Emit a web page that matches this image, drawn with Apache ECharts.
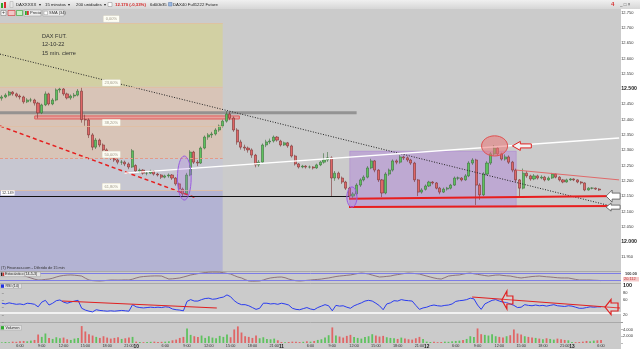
<!DOCTYPE html>
<html><head><meta charset="utf-8">
<script src="https://cdn.jsdelivr.net/npm/echarts@6/dist/echarts.min.js"></script>
<style>html,body{margin:0;padding:0;background:#cbcbcb}#c{width:640px;height:349px}</style>
</head><body><div id="c"></div><script>
// ---------- categories (30-min slots per session) ----------
const days = ['7','10','11','12','13'];
const sessionFirst = ['3:30','2:00','2:00','2:00','2:00'];
const sessionLast = ['21:30','21:30','21:30','21:30','6:00'];
const emptySlots = 5;
const timeTicks = ['6:00','9:00','12:00','15:00','18:00','21:00'];

// ---------- price candles [open, close, low, high] ----------
const ohlc = [
[12470,12474,12462,12480],[12474,12480,12470,12486],[12480,12490,12476,12494],[12490,12484,12478,12493],[12484,12477,12472,12488],
[12477,12474,12466,12482],[12474,12458,12452,12478],[12458,12464,12454,12470],[12464,12464,12457,12471],[12464,12454,12446,12468],
[12454,12422,12404,12458],[12422,12448,12418,12452],[12448,12484,12444,12492],[12484,12451,12446,12488],[12451,12464,12447,12470],
[12464,12497,12460,12502],[12497,12500,12488,12506],[12500,12484,12478,12503],[12484,12471,12466,12488],[12471,12477,12465,12482],
[12477,12480,12470,12487],[12480,12493,12476,12500],[12493,12400,12390,12506],[12400,12399,12380,12416],[12399,12350,12340,12404],
[12350,12310,12300,12356],[12310,12333,12304,12340],[12333,12317,12310,12338],[12317,12301,12296,12322],[12301,12284,12278,12306],
[12284,12275,12268,12290],[12275,12268,12262,12280],[12268,12261,12254,12272],[12261,12261,12252,12268],[12261,12255,12248,12266],
[12255,12245,12238,12260],[12245,12298,12242,12304],[12250,12232,12226,12254],[12232,12235,12226,12240],[12235,12225,12220,12238],
[12225,12225,12218,12230],[12225,12232,12222,12236],[12232,12222,12217,12235],[12222,12219,12214,12226],[12219,12212,12206,12222],
[12212,12216,12208,12220],[12216,12219,12210,12224],[12219,12209,12203,12222],[12209,12190,12184,12212],[12190,12173,12166,12194],
[12173,12157,12147,12178],[12157,12219,12154,12226],[12219,12294,12215,12300],[12294,12261,12255,12298],[12261,12258,12248,12268],
[12258,12307,12255,12312],[12307,12343,12303,12348],[12343,12350,12334,12356],[12350,12353,12340,12360],[12353,12366,12348,12372],
[12366,12379,12360,12384],[12379,12395,12374,12400],[12395,12418,12390,12428],[12418,12405,12398,12426],[12405,12366,12360,12410],
[12366,12327,12318,12372],[12327,12310,12302,12334],[12310,12307,12298,12318],[12307,12301,12292,12312],[12301,12284,12275,12306],
[12284,12252,12244,12288],[12252,12261,12246,12268],[12261,12317,12258,12322],[12317,12327,12310,12334],[12327,12330,12320,12338],
[12330,12343,12325,12348],[12343,12333,12328,12346],[12330,12317,12312,12334],[12317,12324,12314,12328],[12324,12314,12308,12327],
[12314,12281,12276,12318],[12281,12255,12250,12285],[12255,12245,12240,12258],[12245,12248,12241,12252],[12248,12245,12240,12251],
[12245,12245,12240,12250],[12245,12242,12237,12248],[12242,12252,12239,12256],[12252,12261,12248,12265],[12261,12268,12256,12290],
[12268,12275,12262,12294],[12275,12209,12150,12280],[12209,12225,12200,12232],[12225,12209,12204,12230],[12209,12196,12190,12214],
[12196,12176,12170,12200],[12176,12150,12141,12180],[12150,12157,12144,12163],[12157,12186,12152,12192],[12186,12203,12180,12208],
[12203,12212,12198,12218],[12212,12242,12208,12248],[12242,12265,12238,12272],[12265,12235,12228,12268],[12235,12203,12196,12238],
[12203,12160,12147,12206],[12160,12222,12156,12228],[12222,12235,12216,12240],[12235,12265,12230,12270],[12265,12261,12254,12270],
[12261,12278,12256,12284],[12278,12275,12268,12282],[12275,12268,12262,12280],[12268,12258,12252,12272],[12258,12203,12196,12262],
[12203,12163,12150,12206],[12163,12170,12158,12176],[12172,12183,12168,12188],[12183,12196,12180,12200],[12196,12193,12188,12199],
[12193,12176,12172,12196],[12176,12163,12156,12180],[12163,12173,12160,12178],[12173,12176,12168,12180],[12176,12186,12172,12190],
[12186,12209,12183,12214],[12209,12209,12202,12214],[12209,12203,12198,12212],[12203,12216,12200,12222],[12216,12258,12212,12264],
[12258,12268,12252,12274],[12268,12186,12121,12272],[12186,12154,12138,12192],[12154,12222,12150,12228],[12222,12258,12218,12264],
[12258,12288,12252,12294],[12288,12307,12282,12317],[12307,12288,12282,12312],[12288,12271,12266,12292],[12271,12278,12266,12286],
[12278,12261,12255,12283],[12261,12235,12228,12265],[12235,12203,12196,12240],[12203,12176,12144,12206],[12176,12225,12172,12240],
[12225,12216,12210,12232],[12216,12206,12200,12220],[12206,12216,12202,12222],[12216,12209,12204,12220],[12209,12212,12205,12218],
[12212,12203,12198,12216],[12203,12209,12200,12214],[12209,12222,12206,12226],[12222,12212,12208,12224],[12212,12203,12198,12215],
[12203,12196,12192,12206],[12196,12203,12194,12207],[12203,12206,12200,12209],[12206,12203,12199,12208],[12203,12196,12192,12205],
[12196,12193,12188,12199],[12193,12170,12166,12195],[12170,12176,12168,12179],[12176,12176,12172,12179],[12176,12173,12170,12178],
[12173,12170,12167,12176]
];

const volume = [200,300,250,400,350,500,600,500,700,900,
2500,1800,2800,1500,1200,1700,1400,1600,1100,900,
1300,1500,5000,3400,2600,2200,1800,1500,2000,1600,
1300,1500,1700,1200,1400,1600,1800,400,300,250,
300,350,400,300,350,400,500,800,1000,1500,
1800,4300,2400,2000,1800,2200,1500,2000,1600,1400,
2100,1800,2500,1700,4000,4900,3100,2000,1800,1500,
2200,1400,1700,1200,1100,1300,800,300,250,300,
400,350,300,350,500,400,600,900,1100,1600,
2300,4600,2200,1900,1600,2100,2400,1800,1500,1300,
1800,2000,2600,2200,1900,2100,1700,1500,1400,1200,
1600,1300,1100,1000,1400,1800,1200,400,300,350,
250,300,400,350,500,600,700,900,1200,2000,
1800,4300,2600,2400,2200,2600,2000,1800,1600,2000,
2300,4000,2800,2500,2000,1800,1600,1500,1300,1100,
1400,1200,1000,1300,1100,900,800,300,250,300,
400,600,500,700,800,900];

const stoch = [58,62,67,68,68,67,60,52,42,32,
25,26,30,33,40,50,58,63,66,67,
65,62,58,40,25,20,18,17,19,22,
25,25,24,25,26,25,32,42,50,54,
56,58,59,59,58,45,33,35,38,42,
50,58,67,72,78,83,87,90,91,91,
90,86,80,75,62,50,42,28,17,15,
16,17,25,35,42,46,49,50,44,33,
25,19,17,19,22,25,28,30,33,38,
42,48,54,58,61,64,67,73,79,83,
80,75,66,58,50,52,55,58,65,70,
75,80,83,81,78,75,66,58,50,42,
36,33,45,58,62,65,67,74,80,83,
77,72,67,62,58,62,66,67,63,60,
58,52,46,42,46,50,54,56,58,55,
52,50,47,44,42,42,42,36,30,25,
25,25,25,23,22,20];

const rsi = [52,50,53,51,49,50,48,52,51,49,
42,55,60,47,52,59,61,55,52,55,
58,60,38,33,30,28,34,32,31,30,
31,30,31,32,31,30,48,42,40,39,
40,41,40,41,40,42,41,36,34,33,
31,57,62,58,58,62,65,66,63,64,
67,69,75,70,59,52,48,48,45,40,
35,38,52,52,50,51,49,52,50,47,
38,35,34,37,40,36,34,40,44,48,
45,31,46,44,45,41,38,45,49,53,
58,60,58,52,45,34,50,53,59,58,
62,60,59,58,46,35,39,41,45,47,
45,44,46,47,50,57,59,60,62,66,
64,47,35,50,55,60,62,58,55,54,
50,46,40,41,48,46,45,47,45,46,
44,46,48,45,44,43,45,44,41,38,
38,40,42,41,42,42];

// ---------- annotations (slot index / price units) ----------
const fibLevels = [
  {name:'0,00%', price:12716},
  {name:'23,60%', price:12507},
  {name:'38,20%', price:12377},
  {name:'50,00%', price:12273},
  {name:'61,80%', price:12168}
];
const fibFloor = 11905;
const fibStartX = -0.5, fibEndX = 61;
const grayLevel = [[-0.5,12422],[98,12422]];
const pinkBand = [[9.1,12412],[65.6,12402]];
const purpleBox = [[96.1,12297],[142.1,12114]];
const trendDotted = [[-0.5,12614],[170.5,12111]];
const trendRedDashed = [[-0.5,12379],[53.7,12144]];
const trendWhite = [[33.9,12225],[170.5,12340]];
const supportRed1 = [[95.9,12141],[170.5,12150]];
const supportRed2 = [[95.9,12114],[170.5,12118]];
const supportBlack = [[-0.5,12149],[95.9,12149]];
const resistThin = [[142.1,12235],[170.5,12203]];
const ellipses = [[50.4,12209,1.9,72],[96.7,12147,1.4,33],[136.1,12314,3.6,33]];
const priceArrows = [[141.0,12314,0],[166.9,12150,1],[166.9,12114,2]];
const rsiRed1 = [[16.6,58.2],[59.2,38.8]];
const rsiRed2 = [[129.5,69.2],[170.2,38.8]];
const rsiWhite = [[-0.5,24.9],[170.5,24.9]];
const rsiArrows = [[137.7,60.9,3],[166.1,41.5,4]];

// ---------- build ----------
const cats = [];
days.forEach((d,k)=>{
  const a = sessionFirst[k].split(':').map(Number), b = sessionLast[k].split(':').map(Number);
  for (let t=a[0]*60+a[1]; t<=b[0]*60+b[1]; t+=30) cats.push(d+' '+Math.floor(t/60)+':'+String(t%60).padStart(2,'0'));
});
for (let k=0;k<emptySlots;k++) cats.push('e'+k);

const FF = 'Liberation Sans, Arial, sans-serif';
const GREEN = '#5ec25e', RED = '#e06666';
const fmtPrice = v => (v/1000).toFixed(3);
const ellipseStyles = [
  {fill:'rgba(170,110,230,0.22)', stroke:'#9a5ce0', lineWidth:1},
  {fill:'rgba(170,110,230,0.25)', stroke:'#9a5ce0', lineWidth:1},
  {fill:'rgba(235,120,120,0.55)', stroke:'#e05050', lineWidth:1}
];
const arrowShapes = [
  {headW:8, headH:9, shaftW:11, shaftH:4, fill:'#f2f2f2', stroke:'#e02020', lw:1},
  {headW:6, headH:12, shaftW:8, shaftH:6, fill:'#ffffff', stroke:'#555', lw:0.8},
  {headW:5, headH:8, shaftW:9, shaftH:4, fill:'#ffffff', stroke:'#555', lw:0.8},
  {headW:5, headH:18, shaftW:6, shaftH:8, fill:'rgba(255,255,255,0.15)', stroke:'#e02020', lw:1.2},
  {headW:6, headH:15, shaftW:7, shaftH:8, fill:'rgba(255,255,255,0.15)', stroke:'#e02020', lw:1.2}
];
function arrowItem(params, api){
  const c = api.coord([api.value(0), api.value(1)]);
  const a = arrowShapes[api.value(2)];
  const hh=a.headH/2, sh=a.shaftH/2, hw=a.headW, sw=a.shaftW;
  const pts = [[0,0],[hw,-hh],[hw,-sh],[hw+sw,-sh],[hw+sw,sh],[hw,sh],[hw,hh]].map(p=>[c[0]+p[0],c[1]+p[1]]);
  return {type:'polygon', shape:{points:pts}, style:{fill:a.fill, stroke:a.stroke, lineWidth:a.lw}};
}
const lineSeries = (data, style, z) => ({type:'line', xAxisIndex:1, yAxisIndex:0, data, symbol:'none', silent:true, z:z||4, lineStyle:style, animation:false});

const fibFill = ['#d2d0a3','#d8c4b7','#c7c7d1','#b3b3d3'];
const fibAreas = [
  [{coord:[fibStartX, fibLevels[0].price], itemStyle:{color:fibFill[0]}},{coord:[fibEndX, fibLevels[1].price]}],
  [{coord:[fibStartX, fibLevels[1].price], itemStyle:{color:fibFill[1]}},{coord:[fibEndX, fibLevels[3].price]}],
  [{coord:[fibStartX, fibLevels[3].price], itemStyle:{color:fibFill[2]}},{coord:[fibEndX, fibLevels[4].price]}],
  [{coord:[fibStartX, fibLevels[4].price], itemStyle:{color:fibFill[3]}},{coord:[fibEndX, fibFloor]}],
  [{coord:pinkBand[0], itemStyle:{color:'rgba(240,140,140,0.6)', borderColor:'#e05a5a', borderWidth:1}},{coord:pinkBand[1]}],
  [{coord:purpleBox[0], itemStyle:{color:'rgba(168,112,220,0.38)', borderColor:'rgba(150,90,210,0.5)', borderWidth:0.5}},{coord:purpleBox[1]}]
];
const fibLines = fibLevels.map((f,k)=>[
  {coord:[fibStartX,f.price], lineStyle:{color: k===3?'#e59a86':'rgba(225,190,160,0.8)', width:1, type: k===3?[3,2]:'solid'},
   label:{show:true, position:'middle', distance:1, formatter:f.name, fontSize:4, fontFamily:FF, color:'#a09a8a',
          backgroundColor:'rgba(255,255,245,0.95)', padding:[1,2], borderColor:'#e0dccc', borderWidth:0.5}},
  {coord:[fibEndX,f.price]}
]);

const volData = volume.map((v,i)=>({value:v, itemStyle:{color: ohlc[i][1]>=ohlc[i][0]?GREEN:RED}}));

const hiddenCat = (grid) => ({type:'category', gridIndex:grid, data:cats, boundaryGap:true, show:false});
const hiddenVal = (grid) => ({type:'value', gridIndex:grid, min:-0.5, max:170.5, show:false});
const tick = {show:true, length:2, lineStyle:{color:'#777', width:0.5}};

const option = {
  animation:false,
  backgroundColor:'#cbcbcb',
  grid:[
    {left:0, right:19, top:12.5, height:260.1},
    {left:0, right:19, top:271, height:12},
    {left:0, right:19, top:283, height:39},
    {left:0, right:19, top:322, height:22}
  ],
  xAxis:[
    hiddenCat(0), hiddenVal(0), hiddenCat(1), hiddenCat(2), hiddenVal(2),
    {type:'category', gridIndex:3, data:cats, boundaryGap:true, axisLine:{show:false}, axisTick:{show:false}, splitLine:{show:false},
     axisLabel:{fontSize:3.8, fontFamily:FF, color:'#333', margin:1,
       interval:(i,v)=>{const p=v.split(' '); return p.length===2 && (timeTicks.includes(p[1]) || p[1]==='2:00');},
       formatter:(v)=>{const p=v.split(' '); return p[1]==='2:00' ? '{d|'+p[0]+'}' : p[1];},
       rich:{d:{fontSize:4.8, fontWeight:'bold', fontFamily:FF, color:'#222'}}}}
  ],
  yAxis:[
    {type:'value', gridIndex:0, position:'right', min:11900, max:12750, interval:50, splitLine:{show:false}, axisLine:{show:false}, axisTick:tick,
     axisLabel:{fontSize:4, fontFamily:FF, color:'#333', margin:2,
       formatter:v=> (v<=11900? '' : (v%500===0 ? '{b|'+fmtPrice(v)+'}' : fmtPrice(v))),
       rich:{b:{fontSize:5.2, fontWeight:'bold', fontFamily:FF, color:'#222'}}}},
    {type:'value', gridIndex:1, min:0, max:100, show:false},
    {type:'value', gridIndex:2, position:'right', min:0, max:108, interval:20, splitLine:{show:false}, axisLine:{show:false}, axisTick:tick,
     axisLabel:{fontSize:4, fontFamily:FF, color:'#333', margin:2, showMaxLabel:false,
       formatter:v=> v===100 ? '{b|100}' : ([80,60,20].includes(v) ? String(v) : ''),
       rich:{b:{fontSize:5.4, fontWeight:'bold', fontFamily:FF, color:'#222'}}}},
    {type:'value', gridIndex:3, position:'right', min:0, max:6200, interval:2000, splitLine:{show:false}, axisLine:{show:false}, axisTick:tick,
     axisLabel:{fontSize:4, fontFamily:FF, color:'#333', margin:2, formatter:v=> v===4000?'4.000':(v===2000?'2.000':'')}}
  ],
  series:[
    {type:'line', xAxisIndex:1, yAxisIndex:0, data:grayLevel, symbol:'none', silent:true, z:1,
     lineStyle:{color:'#8a8a8a', width:3, opacity:0.85},
     markArea:{silent:true, data:fibAreas},
     markLine:{silent:true, symbol:'none', data:fibLines}},
    {type:'candlestick', xAxisIndex:0, yAxisIndex:0, data:ohlc, z:3, barWidth:2.6, silent:true,
     itemStyle:{color:GREEN, color0:RED, borderColor:'#3b6e3b', borderColor0:'#7a3434', borderWidth:0.6},
     markLine:{silent:true, symbol:'none', data:[{yAxis:ohlc[ohlc.length-1][1]}], lineStyle:{opacity:0},
       label:{show:true, position:'end', distance:1, formatter:p=>fmtPrice(p.value), fontSize:4.2, fontFamily:FF, color:'#333',
              backgroundColor:'#f2df3a', padding:[1,1]}}},
    lineSeries(trendDotted, {color:'#222', width:1, type:[1,1.6]}),
    lineSeries(trendRedDashed, {color:'#e51f1f', width:1.5, type:[4,3]}),
    lineSeries(trendWhite, {color:'#ffffff', width:1.4}),
    lineSeries(supportRed1, {color:'#e81e1e', width:2}),
    lineSeries(supportRed2, {color:'#e81e1e', width:2}),
    Object.assign(lineSeries(resistThin, {color:'#e06a6a', width:1}), {
      markLine:{silent:true, symbol:'none', data:[[{coord:supportBlack[0], label:{show:true, position:'insideStartTop', distance:1,
        formatter:'12.149', fontSize:3.8, fontFamily:FF, color:'#333', backgroundColor:'#ffffff', padding:[0.5,1]}}, {coord:supportBlack[1]}]],
        lineStyle:{color:'#111', width:1, type:'solid'}}}),
    {type:'custom', xAxisIndex:1, yAxisIndex:0, data:ellipses, z:5, silent:true, clip:false, encode:{x:0,y:1},
     renderItem:(params, api)=>{
       const c = api.coord([api.value(0), api.value(1)]);
       const s = api.size([api.value(2), api.value(3)]);
       return {type:'ellipse', shape:{cx:c[0], cy:c[1], rx:s[0], ry:s[1]}, style:ellipseStyles[params.dataIndex]};
     }},
    {type:'custom', xAxisIndex:1, yAxisIndex:0, data:priceArrows, z:6, silent:true, clip:false, encode:{x:0,y:1}, renderItem:arrowItem},
    {type:'line', xAxisIndex:2, yAxisIndex:1, data:stoch, symbol:'none', silent:true, z:3,
     lineStyle:{color:'#866a74', width:0.9},
     markLine:{silent:true, symbol:'none', data:[{yAxis:80},{yAxis:20}], lineStyle:{color:'#7c7ce6', width:1, type:'solid'}, label:{show:false}}},
    {type:'line', xAxisIndex:3, yAxisIndex:2, data:rsi, symbol:'none', silent:true, z:3,
     lineStyle:{color:'#2a3cf0', width:1},
     markLine:{silent:true, symbol:'none', data:[{yAxis:rsi[rsi.length-1]}], lineStyle:{opacity:0},
       label:{show:true, position:'end', distance:1, formatter:p=>p.value.toFixed(3), fontSize:3.8, fontFamily:FF, color:'#3040d0',
              backgroundColor:'#c8cff2', padding:[1,1]}}},
    {type:'line', xAxisIndex:4, yAxisIndex:2, data:rsiWhite, symbol:'none', silent:true, z:2, lineStyle:{color:'#ffffff', width:1.6}},
    {type:'line', xAxisIndex:4, yAxisIndex:2, data:rsiRed1, symbol:'none', silent:true, z:4, lineStyle:{color:'#e02020', width:1.2}},
    {type:'line', xAxisIndex:4, yAxisIndex:2, data:rsiRed2, symbol:'none', silent:true, z:4, lineStyle:{color:'#e02020', width:1.2}},
    {type:'custom', xAxisIndex:4, yAxisIndex:2, data:rsiArrows, z:6, silent:true, clip:false, encode:{x:0,y:1}, renderItem:arrowItem},
    {type:'bar', xAxisIndex:5, yAxisIndex:3, data:volData, barWidth:1.8, silent:true, z:3}
  ],
  graphic:[
    {type:'rect', z:-1, shape:{x:621,y:9,width:19,height:340}, style:{fill:'#ffffff'}},
    {type:'line', z:-1, shape:{x1:0,y1:271.5,x2:621,y2:271.5}, style:{stroke:'#a9a9a9', lineWidth:1}},
    {type:'line', z:-1, shape:{x1:0,y1:283.5,x2:621,y2:283.5}, style:{stroke:'#a9a9a9', lineWidth:1}},
    {type:'line', z:-1, shape:{x1:0,y1:322.5,x2:621,y2:322.5}, style:{stroke:'#a9a9a9', lineWidth:1}},
    // toolbar row 1
    {type:'rect', z:50, shape:{x:0,y:0,width:640,height:9},
     style:{fill:new echarts.graphic.LinearGradient(0,0,0,1,[{offset:0,color:'#f0f0f0'},{offset:1,color:'#d6d6d6'}])}},
    {type:'rect', z:51, shape:{x:1,y:3,width:2,height:5}, style:{fill:'#2eaa2e'}},
    {type:'rect', z:51, shape:{x:4,y:2,width:2,height:6}, style:{fill:'#d83030'}},
    {type:'rect', z:51, shape:{x:10,y:1.5,width:3,height:6}, style:{fill:'#e8e8e8', stroke:'#aaa', lineWidth:0.5}},
    {type:'text', z:51, x:16, y:4.7, style:{text:'DAXXXXX  ▾', fontSize:4.3, fontFamily:FF, fill:'#222', verticalAlign:'middle'}},
    {type:'text', z:51, x:45, y:4.7, style:{text:'15 minutos  ▾', fontSize:4.3, fontFamily:FF, fill:'#222', verticalAlign:'middle'}},
    {type:'text', z:51, x:76, y:4.7, style:{text:'200 unidades  ▾', fontSize:4.3, fontFamily:FF, fill:'#222', verticalAlign:'middle'}},
    {type:'rect', z:51, shape:{x:108,y:2.5,width:4,height:4}, style:{fill:'#fff', stroke:'#888', lineWidth:0.5}},
    {type:'text', z:51, x:115, y:4.7, style:{text:'12.170 (-0,33%)', fontSize:4.3, fontWeight:'bold', fontFamily:FF, fill:'#d42020', verticalAlign:'middle'}},
    {type:'text', z:51, x:150, y:4.7, style:{text:'6d00b35', fontSize:4.3, fontFamily:FF, fill:'#222', verticalAlign:'middle'}},
    {type:'rect', z:51, shape:{x:168.5,y:2.5,width:3.5,height:3.5}, style:{fill:'#9ab8e0', stroke:'#5577aa', lineWidth:0.5}},
    {type:'text', z:51, x:173, y:4.7, style:{text:'DAX40 Full1222 Future', fontSize:4.3, fontFamily:FF, fill:'#222', verticalAlign:'middle'}},
    {type:'text', z:51, x:611, y:4.7, style:{text:'4', fontSize:6, fontWeight:'bold', fontFamily:FF, fill:'#d83030', verticalAlign:'middle'}},
    {type:'text', z:51, x:620, y:4.7, style:{text:'_ □ ×', fontSize:4.5, fontFamily:FF, fill:'#555', verticalAlign:'middle'}},
    // toolbar row 2
    {type:'rect', z:51, shape:{x:1,y:10.5,width:5,height:5}, style:{fill:'#f4f4f4', stroke:'#777', lineWidth:0.5}},
    {type:'text', z:52, x:2, y:13, style:{text:'+', fontSize:5, fontFamily:FF, fill:'#333', verticalAlign:'middle'}},
    {type:'rect', z:51, shape:{x:8,y:10.5,width:7,height:5}, style:{fill:'#f0c8c8', stroke:'#d03030', lineWidth:0.6}},
    {type:'rect', z:51, shape:{x:16.5,y:10.5,width:6,height:5}, style:{fill:'#c8f0c8', stroke:'#30a030', lineWidth:0.6}},
    {type:'rect', z:51, shape:{x:24,y:10,width:17,height:6}, style:{fill:'#ececec', stroke:'#999', lineWidth:0.5}},
    {type:'rect', z:52, shape:{x:25,y:11,width:1.8,height:4}, style:{fill:'#2eaa2e'}},
    {type:'rect', z:52, shape:{x:27,y:11,width:1.8,height:4}, style:{fill:'#d83030'}},
    {type:'text', z:52, x:30, y:13.2, style:{text:'Precio', fontSize:4, fontFamily:FF, fill:'#333', verticalAlign:'middle'}},
    {type:'rect', z:51, shape:{x:43,y:10,width:21,height:6}, style:{fill:'#ececec', stroke:'#999', lineWidth:0.5}},
    {type:'rect', z:52, shape:{x:44,y:11.2,width:3.5,height:3.5}, style:{fill:'#fff', stroke:'#777', lineWidth:0.4}},
    {type:'text', z:52, x:49, y:13.2, style:{text:'SMA (34)', fontSize:4, fontFamily:FF, fill:'#333', verticalAlign:'middle'}},
    // chart title text
    {type:'text', z:20, x:42, y:36, style:{text:'DAX FUT.', fontSize:5.6, fontFamily:FF, fill:'#333', verticalAlign:'middle'}},
    {type:'text', z:20, x:42, y:44.5, style:{text:'12-10-22', fontSize:5.6, fontFamily:FF, fill:'#333', verticalAlign:'middle'}},
    {type:'text', z:20, x:42, y:53, style:{text:'15 min. cierre', fontSize:5.6, fontFamily:FF, fill:'#333', verticalAlign:'middle'}},
    // panel labels
    {type:'text', z:20, x:1, y:268.3, style:{text:'(T) Finanzas.com - Diferido de 15 min', fontSize:3.8, fontFamily:FF, fill:'#333', verticalAlign:'middle'}},
    {type:'rect', z:20, shape:{x:0.5,y:272,width:40,height:4.6}, style:{fill:'#e4e4e4', stroke:'#999', lineWidth:0.4}},
    {type:'rect', z:21, shape:{x:1,y:272.6,width:1.5,height:3.4}, style:{fill:'#222'}},
    {type:'rect', z:21, shape:{x:2.7,y:272.6,width:1.5,height:3.4}, style:{fill:'#d03030'}},
    {type:'text', z:21, x:5, y:274.4, style:{text:'Estocástico (14-5-3)', fontSize:3.6, fontFamily:FF, fill:'#222', verticalAlign:'middle'}},
    {type:'text', z:20, x:625, y:274, style:{text:'100.00', fontSize:3.9, fontWeight:'bold', fontFamily:FF, fill:'#333', verticalAlign:'middle'}},
    {type:'rect', z:20, shape:{x:623,y:277,width:16,height:4.5}, style:{fill:'#f4caca'}},
    {type:'text', z:21, x:624, y:279.3, style:{text:'20.112', fontSize:3.9, fontFamily:FF, fill:'#c03030', verticalAlign:'middle'}},
    {type:'rect', z:20, shape:{x:0.5,y:283.8,width:21,height:4.6}, style:{fill:'#e4e4e4', stroke:'#999', lineWidth:0.4}},
    {type:'rect', z:21, shape:{x:1,y:284.4,width:3,height:3.4}, style:{fill:'#2030e0'}},
    {type:'text', z:21, x:5.5, y:286.2, style:{text:'RSI (14)', fontSize:3.6, fontFamily:FF, fill:'#222', verticalAlign:'middle'}},
    {type:'rect', z:20, shape:{x:0.5,y:325.5,width:21,height:4.6}, style:{fill:'#e4e4e4', stroke:'#999', lineWidth:0.4}},
    {type:'rect', z:21, shape:{x:1,y:326.1,width:3,height:3.4}, style:{fill:'#2eaa2e'}},
    {type:'text', z:21, x:5.5, y:327.9, style:{text:'Volumen', fontSize:3.6, fontFamily:FF, fill:'#222', verticalAlign:'middle'}}
  ]
};
const chart = echarts.init(document.getElementById('c'));
chart.setOption(option);
</script></body></html>
